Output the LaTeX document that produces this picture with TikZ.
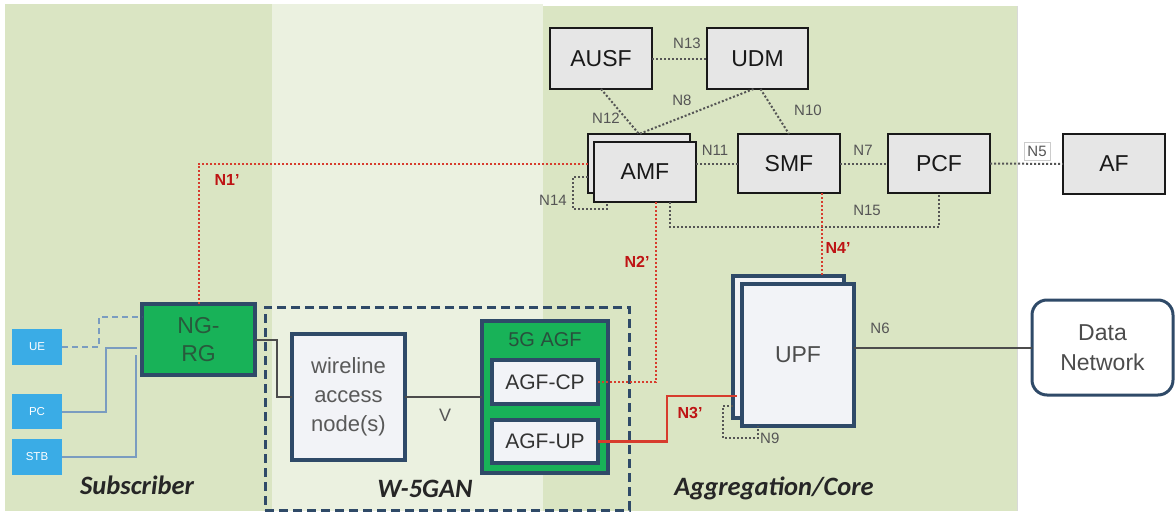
\documentclass[tikz,border=0pt]{standalone}
\usepackage{fontspec}
\setmainfont{Liberation Sans}
\newfontfamily\calfont{Carlito}
\usetikzlibrary{calc}
\definecolor{bggreen}{RGB}{218,229,195}
\definecolor{bglight}{RGB}{235,241,224}
\definecolor{dkblue}{RGB}{47,74,104}
\definecolor{rggreen}{RGB}{24,178,88}
\definecolor{uebl}{RGB}{58,172,230}
\definecolor{subln}{RGB}{122,156,192}
\definecolor{nfgray}{RGB}{230,230,230}
\definecolor{dotgray}{RGB}{85,85,85}
\definecolor{redl}{RGB}{215,60,45}
\definecolor{redtxt}{RGB}{190,20,20}
\definecolor{boxwhite}{RGB}{242,243,247}
\begin{document}
\begin{tikzpicture}[x=1pt,y=-1pt,
  nf/.style={draw=black!90, fill=nfgray, line width=1.8pt, font=\fontsize{23}{27}\selectfont, text=black!90, inner sep=0pt, outer sep=0pt},
  blbox/.style={draw=dkblue, line width=3.5pt, fill=boxwhite, inner sep=0pt, outer sep=0pt},
  iface/.style={dotgray, line width=2pt, dash pattern=on 2pt off 2pt},
  riface/.style={redl, line width=2pt, dash pattern=on 2pt off 2pt},
  lbl/.style={text=dotgray, font=\fontsize{15}{18}\selectfont, inner sep=0pt},
  rlbl/.style={text=redtxt, font=\bfseries\fontsize{16}{19}\selectfont, inner sep=0pt},
  dev/.style={fill=uebl, text=white, font=\fontsize{11.5}{13}\selectfont, minimum width=50, minimum height=36, inner sep=0pt, outer sep=0pt},
  region/.style={font=\calfont\bfseries\itshape\fontsize{26.5}{30}\selectfont, text=black!85, inner sep=0pt},
  subline/.style={subln, line width=2pt},
  darkline/.style={black!70, line width=2pt}
]
\useasboundingbox (0,0) rectangle (1176,514);
% backgrounds
\fill[bggreen] (5,4) rectangle (272,511);
\fill[bglight] (272,4) rectangle (543,511);
\fill[bggreen] (543,6) rectangle (1017,511);
\draw[black!15, line width=1pt] (1017,6) -- (1017,511);

% W-5GAN region
\node[draw=dkblue, line width=3pt, dash pattern=on 9pt off 5pt, minimum width=364, minimum height=203, inner sep=0pt, outer sep=0pt] (w5gan) at (447,408.5) {};

% core NFs
\node[nf, minimum width=102, minimum height=61] (ausf) at (601,58.5) {AUSF};
\node[nf, minimum width=101, minimum height=61] (udm) at (757.5,58.5) {UDM};
\node[nf, minimum width=102, minimum height=59] (amfb) at (639,163.5) {};
\node[nf, minimum width=102, minimum height=60] (amff) at (645,172) {AMF};
\node[nf, minimum width=102, minimum height=59] (smf) at (789,163.5) {SMF};
\node[nf, minimum width=102, minimum height=59] (pcf) at (939,163.5) {PCF};
\node[nf, minimum width=102, minimum height=60] (af) at (1114,164) {AF};

% UPF
\node[blbox, minimum width=111, minimum height=142] (upfb) at (788.5,347) {};
\node[blbox, minimum width=112, minimum height=142, text=black!70, font=\fontsize{23}{27}\selectfont] (upff) at (798,355) {UPF};

% Data network
\node[draw=dkblue, line width=3pt, fill=white, rounded corners=15pt, minimum width=141, minimum height=95, inner sep=0pt, outer sep=0pt, align=center, text=black!70, font=\fontsize{23}{30}\selectfont] (dn) at (1102.5,347.5) {Data\\Network};

% subscriber
\node[draw=dkblue, line width=4pt, fill=rggreen, minimum width=113, minimum height=71, inner sep=0pt, outer sep=0pt, align=center, text={rgb,255:red,40;green,90;blue,60}, font=\fontsize{23}{28}\selectfont] (ngrg) at (198.5,339.5) {NG-\\RG};
\node[dev] (ue) at (37,347) {UE};
\node[dev, minimum height=35] (pc) at (37,411.5) {PC};
\node[dev] (stb) at (37,457) {STB};

% W-5GAN
\node[blbox, minimum width=113, minimum height=126, align=center, text=black!65, font=\fontsize{22}{29}\selectfont] (wl) at (348.5,397) {wireline\\access\\node(s)};
\node[draw=dkblue, line width=3.5pt, fill=rggreen, minimum width=126, minimum height=152, inner sep=0pt, outer sep=0pt] (agf) at (545,397) {};
\node[text={rgb,255:red,40;green,80;blue,60}, font=\fontsize{20}{24}\selectfont, inner sep=0pt] (agft) at (545,340) {5G AGF};
\node[blbox, minimum width=106, minimum height=44, text=black!80, font=\fontsize{21}{25}\selectfont] (agfcp) at (545,382) {AGF-CP};
\node[blbox, minimum width=106, minimum height=43, text=black!80, font=\fontsize{21}{25}\selectfont] (agfup) at (545,441.5) {AGF-UP};

% region labels
\node[region] (lsub) at (137,485) {Subscriber};
\node[region] (lw5) at (425,489) {W-5GAN};
\node[region] (lagg) at (774,488) {Aggregation/Core};

% interfaces in the core
\draw[iface] (ausf.east) -- (udm.west);
\draw[iface] (ausf.south) -- (amfb.north);
\draw[iface] ([xshift=-4pt]udm.south) -- (amfb.north);
\draw[iface] ([xshift=3pt]udm.south) -- (smf.north);
\draw[iface] (amff.east |- smf.west) -- (smf.west);
\draw[iface] (smf.east) -- (pcf.west);
\draw[iface] (pcf.east) -- (af.west);
\draw[iface] ($(amfb.west)+(0,13.5)$) -- ++(-15,0) -- ++(0,32) -- ++(34,0) -- ++(0,-7);
\draw[iface] ($(amff.south)+(25,0)$) -- ++(0,25) -| (pcf.south);
\draw[iface] ($(upfb.south west)+(0,-12)$) -- ++(-10,0) -- ++(0,32) -- ++(35,0) -- ++(0,-12);
\draw[darkline] (upff.east |- dn.west) -- (dn.west);

% red reference points
\draw[riface] (amfb.west) -| (ngrg.north);
\draw[riface] ($(amff.south)+(11,0)$) |- (agfcp.east);
\coordinate (n4s) at ($(smf.south)+(33,0)$);
\draw[riface] (n4s) -- (n4s |- upfb.north);
\coordinate (n3e) at ($(upfb.south west)+(4,-22)$);
\draw[redl, line width=2.5pt] (agfup.east) -- ++(69,0) |- (n3e);

% access lines
\draw[darkline] (ngrg.east) -- ++(22,0) |- (wl.west);
\draw[darkline] (wl.east) -- (agf.west);
\draw[subline, dash pattern=on 6pt off 4pt] (ue.east) -- ++(37,0) |- ($(ngrg.north west)+(0,13)$);
\coordinate (pce) at ($(ngrg.west)+(-5,8.5)$);
\draw[subline] (pc.east) -- ++(44,0) |- (pce);
\coordinate (stbe) at ($(ngrg.west)+(-6,15.5)$);
\draw[subline] (stb.east) -| (stbe);

% labels
\node[lbl] (l13) at (687,43) {N13};
\node[lbl] (l12) at (606,118) {N12};
\node[lbl] (l8) at (682,100) {N8};
\node[lbl] (l10) at (808,110) {N10};
\node[lbl] (l11) at (715,150) {N11};
\node[lbl] (l7) at (863,150) {N7};
\node[lbl] (l14) at (553,200) {N14};
\node[lbl] (l15) at (867,210) {N15};
\node[lbl, draw=black!20, fill=white, inner sep=3.5pt] (l5) at (1037,151) {N5};
\node[lbl] (l6) at (880,328) {N6};
\node[lbl, anchor=west] (l9) at (760,438) {N9};
\node[lbl, font=\fontsize{18}{21}\selectfont] (lv) at (445,415) {V};
\node[rlbl] (l1) at (227,180) {N1'};
\node[rlbl] (l2) at (637,262) {N2'};
\node[rlbl] (l4) at (838,248) {N4'};
\node[rlbl] (l3) at (690,413) {N3'};
\end{tikzpicture}
\end{document}
